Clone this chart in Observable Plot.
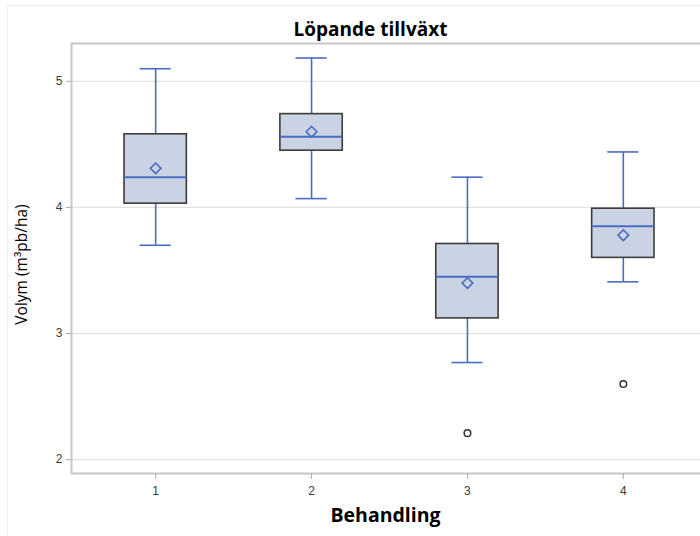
<!DOCTYPE html>
<html>
<head>
<meta charset="utf-8">
<script src="https://cdn.jsdelivr.net/npm/d3@7"></script>
<script src="https://cdn.jsdelivr.net/npm/@observablehq/plot@0.6"></script>
<style>
  html, body { margin: 0; padding: 0; background: #fff; overflow: hidden; }
  #wrap { position: relative; width: 700px; height: 536px; overflow: hidden; }
  #wrap svg { max-width: none !important; width: 712px !important; height: 536px !important; display: block; }
  #edge { position: absolute; left: 7px; top: 5px; width: 700px; height: 540px; border-left: 1px solid #f0f0f0; border-top: 1px solid #f0f0f0; pointer-events: none; z-index: 2; }
</style>
</head>
<body>
<div id="wrap"><div id="edge"></div></div>
<script>
const groups      = [1, 2, 3, 4];
const whiskerLow  = [3.70, 4.07, 2.77, 3.41];
const q1          = [4.03, 4.45, 3.12, 3.60];
const median      = [4.24, 4.56, 3.45, 3.85];
const q3          = [4.58, 4.74, 3.71, 3.99];
const whiskerHigh = [5.10, 5.185, 4.24, 4.44];
const mean        = [4.31, 4.60, 3.40, 3.78];
const outlierGroup = [3, 4];
const outlierValue = [2.21, 2.60];
const yTicks = [2, 3, 4, 5];
const xTicks = [1, 2, 3, 4];

const title = "Löpande tillväxt";
const xLabel = "Behandling";
const yLabel = "Volym (m³pb/ha)";

const boxes = groups.map((g, i) => ({
  g, lo: whiskerLow[i], q1: q1[i], med: median[i], q3: q3[i], hi: whiskerHigh[i], mean: mean[i]
}));
const outliers = outlierGroup.map((g, i) => ({g, v: outlierValue[i]}));

const blue = "#4a6dc2";
const boxHalf = 0.2, capHalf = 0.1;

const chart = Plot.plot({
  width: 712,
  height: 536,
  marginLeft: 71,
  marginRight: 5,
  marginTop: 43,
  marginBottom: 63,
  style: {background: "transparent", fontFamily: "Liberation Sans, Arial, sans-serif"},
  x: {domain: [0.46, 4.54], axis: null},
  y: {domain: [1.89, 5.30], axis: null},
  marks: [
    Plot.gridY(yTicks, {stroke: "#e3e3e3", strokeOpacity: 1, strokeWidth: 1.2}),
    Plot.frame({stroke: "#c6c6c6", strokeWidth: 2}),
    Plot.axisY(yTicks, {tickSize: 5, tickPadding: 4, stroke: "#aaa", fill: "#3a3a3a", fontSize: 12, label: null, tickFormat: d3.format("d")}),
    Plot.axisX(xTicks, {tickSize: 6, tickPadding: 7, stroke: "#aaa", fill: "#3a3a3a", fontSize: 12, label: null, tickFormat: d3.format("d")}),
    // whiskers
    Plot.ruleX(boxes, {x: "g", y1: "lo", y2: "q1", stroke: blue, strokeWidth: 1.6}),
    Plot.ruleX(boxes, {x: "g", y1: "q3", y2: "hi", stroke: blue, strokeWidth: 1.6}),
    Plot.ruleY(boxes, {y: "lo", x1: d => d.g - capHalf, x2: d => d.g + capHalf, stroke: blue, strokeWidth: 1.6}),
    Plot.ruleY(boxes, {y: "hi", x1: d => d.g - capHalf, x2: d => d.g + capHalf, stroke: blue, strokeWidth: 1.6}),
    // boxes
    Plot.rect(boxes, {x1: d => d.g - boxHalf, x2: d => d.g + boxHalf, y1: "q1", y2: "q3", fill: "#c9d3e3", stroke: "#3c3c3c", strokeWidth: 1.6}),
    Plot.ruleY(boxes, {y: "med", x1: d => d.g - boxHalf, x2: d => d.g + boxHalf, stroke: blue, strokeWidth: 2}),
    Plot.dot(boxes, {x: "g", y: "mean", symbol: "diamond2", r: 4.8, stroke: blue, fill: "none", strokeWidth: 1.6}),
    Plot.dot(outliers, {x: "g", y: "v", symbol: "circle", r: 3.3, stroke: "#333", fill: "none", strokeWidth: 1.5}),
    // texts
    Plot.text([title], {frameAnchor: "top", dx: -19, dy: -21, fontFamily: "Open Sans, sans-serif", fontWeight: "bold", fontSize: 19, fill: "#000"}),
    Plot.text([xLabel], {frameAnchor: "bottom", dx: -4, dy: 48, fontFamily: "Open Sans, sans-serif", fontWeight: "bold", fontSize: 19.5, fill: "#000"}),
    Plot.text([yLabel], {frameAnchor: "left", textAnchor: "middle", dx: -49, dy: 6, rotate: -90, fontFamily: "Open Sans, sans-serif", fontSize: 15.5, fill: "#000"})
  ]
});
document.getElementById("wrap").appendChild(chart);
</script>
</body>
</html>
